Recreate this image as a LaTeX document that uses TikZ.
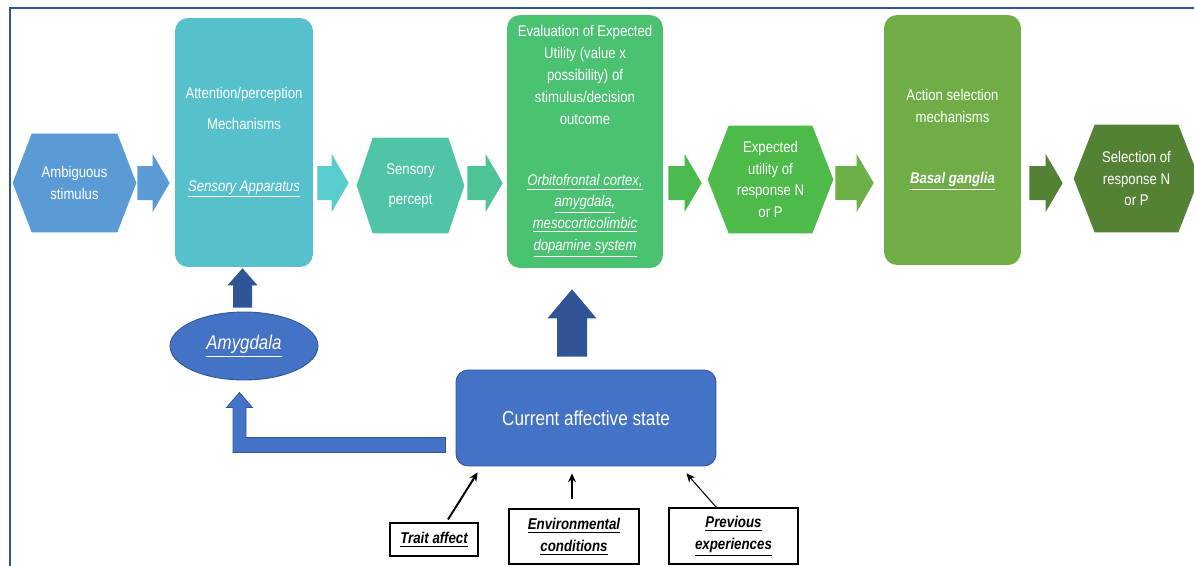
\documentclass[tikz,border=0pt]{standalone}
\usepackage{fontspec}
\setmainfont{Liberation Sans}[FakeStretch=0.85]
\usetikzlibrary{positioning,calc,shapes.geometric,arrows.meta}

\definecolor{stimblue}{RGB}{91,155,213}
\definecolor{attcyan}{RGB}{86,193,205}
\definecolor{arrcyan}{RGB}{88,204,206}
\definecolor{senseteal}{RGB}{80,196,166}
\definecolor{arrteal}{RGB}{77,196,150}
\definecolor{evalgreen}{RGB}{75,193,114}
\definecolor{arrgreen}{RGB}{74,186,78}
\definecolor{expgreen}{RGB}{76,187,74}
\definecolor{arrolive}{RGB}{110,176,72}
\definecolor{actgreen}{RGB}{112,173,71}
\definecolor{selgreen}{RGB}{84,130,53}
\definecolor{affblue}{RGB}{68,114,196}
\definecolor{darkblue}{RGB}{47,85,151}

\pgfdeclarelayer{background}
\pgfsetlayers{background,main}

% hexagon fill behind a named node: node, colour, chamfer
\newcommand{\hexfill}[3]{%
  \begin{pgfonlayer}{background}
    \fill[#2] (#1.west) -- ($(#1.north west)+(#3,0)$) -- ($(#1.north east)+(-#3,0)$)
      -- (#1.east) -- ($(#1.south east)+(-#3,0)$) -- ($(#1.south west)+(#3,0)$) -- cycle;
  \end{pgfonlayer}}

% block arrow pointing right: colour, tail, tip
\newcommand{\blockright}[3]{%
  \fill[#1] let \p1=(#2), \p2=(#3) in
    (\x1,\y1+0.34cm) -- (\x2-0.34cm,\y1+0.34cm) -- (\x2-0.34cm,\y1+0.58cm)
    -- (\x2,\y1) -- (\x2-0.34cm,\y1-0.58cm) -- (\x2-0.34cm,\y1-0.34cm)
    -- (\x1,\y1-0.34cm) -- cycle;}

% block arrow pointing up: colour, tail, tip, body half, head half, head length
\newcommand{\blockup}[6]{%
  \fill[#1] let \p1=(#2), \p2=(#3) in
    (\x1-#4,\y1) -- (\x1-#4,\y2-#6) -- (\x1-#5,\y2-#6) -- (\x2,\y2)
    -- (\x1+#5,\y2-#6) -- (\x1+#4,\y2-#6) -- (\x1+#4,\y1) -- cycle;}

\begin{document}
\begin{tikzpicture}[
    x=0.02cm, y=-0.02cm,
    flowbox/.style={rounded corners=0.26cm, inner sep=0pt, text=white, align=center,
      font=\fontsize{8.8}{12.4}\selectfont},
    hexbox/.style={rectangle, inner sep=0pt, text=white, align=center,
      font=\fontsize{8.8}{12.4}\selectfont},
    sourcebox/.style={draw=black, line width=0.6pt, inner sep=0pt, align=center,
      font=\fontsize{8.9}{12.5}\selectfont\bfseries\itshape},
    statebox/.style={fill=affblue, draw=darkblue, line width=0.5pt},
    thinarrow/.style={draw=black, -{Stealth[length=5pt,width=4.5pt]}}
]
\useasboundingbox (0,0) rectangle (1194,565);
\draw[darkblue, line width=1.1pt] (10,8) rectangle (1230,600);

% main row
\node[hexbox, minimum width=2.46cm, minimum height=1.96cm] (amb) at (74.5,183) {Ambiguous\\stimulus};
\node[flowbox, fill=attcyan, minimum width=2.76cm, minimum height=4.98cm,
  font=\fontsize{8.8}{17.6}\selectfont] (att) at (244,142.5)
  {Attention/perception\\Mechanisms\\[17.6pt]\underline{\itshape Sensory Apparatus}};
\node[hexbox, minimum width=2.14cm, minimum height=1.9cm,
  font=\fontsize{8.8}{17}\selectfont] (sens) at (410.5,185.5) {Sensory\\percept};
\node[flowbox, fill=evalgreen, minimum width=3.12cm, minimum height=5.06cm] (eval) at (585,141.5)
  {Evaluation of Expected\\Utility (value x\\possibility) of\\stimulus/decision\\outcome\\[22.4pt]
   \underline{\itshape Orbitofrontal cortex,}\\\underline{\itshape amygdala,}\\
   \underline{\itshape mesocorticolimbic}\\\underline{\itshape dopamine system}};
\node[hexbox, minimum width=2.5cm, minimum height=2.14cm] (exp) at (770.5,179.5)
  {Expected\\utility of\\response N\\or P};
\node[flowbox, fill=actgreen, minimum width=2.74cm, minimum height=5cm] (act) at (952.5,140)
  {Action selection\\mechanisms\\[22.7pt]\underline{\bfseries\itshape Basal ganglia}};
\node[hexbox, minimum width=2.5cm, minimum height=2.14cm] (sel) at (1136.5,178.5)
  {Selection of\\response N\\or P};

\hexfill{amb}{stimblue}{19}
\hexfill{sens}{senseteal}{16}
\hexfill{exp}{expgreen}{21}
\hexfill{sel}{selgreen}{21}

% affect part
\node[ellipse, statebox, minimum width=2.96cm, minimum height=1.36cm, inner sep=0pt,
  text=white, font=\fontsize{11.3}{13}\selectfont] (amy) at (244,346) {\underline{\itshape Amygdala}};
\node[statebox, rounded corners=0.24cm, minimum width=5.2cm, minimum height=1.92cm,
  text=white, font=\fontsize{11.5}{13}\selectfont] (cur) at (586,418) {Current affective state};

\node[sourcebox, minimum width=1.76cm, minimum height=0.66cm] (trait) at (434,539.5)
  {\underline{Trait affect}};
\node[sourcebox, minimum width=2.6cm, minimum height=1.1cm] (env) at (574,536.5)
  {\underline{Environmental}\\\underline{conditions}};
\node[sourcebox, minimum width=2.58cm, minimum height=1.12cm] (prev) at (733.5,536)
  {\underline{Previous}\\\underline{experiences}};

% flow arrows
\blockright{stimblue}{$(amb.east)+(1,0)$}{$(att.west)+(-5,0)$}
\blockright{arrcyan}{$(att.east |- amb.east)+(4,0)$}{$(sens.west)+(-8,0)$}
\blockright{arrteal}{$(sens.east |- amb.east)+(3,0)$}{$(eval.west)+(-4,0)$}
\blockright{arrgreen}{$(eval.east |- amb.east)+(5,0)$}{$(exp.west)+(-6,0)$}
\blockright{arrolive}{$(exp.east |- amb.east)+(2,0)$}{$(act.west)+(-10,0)$}
\blockright{selgreen}{$(act.east |- amb.east)+(8,0)$}{$(sel.west)+(-11,0)$}

\blockup{darkblue}{$(amy.north)+(-1.5,-4)$}{$(att.south)+(-1.5,1)$}{0.19cm}{0.3cm}{0.34cm}
\blockup{darkblue}{$(cur.north)+(-14,-13)$}{$(eval.south)+(-13,21)$}{0.3cm}{0.49cm}{0.58cm}

% state to amygdala
\filldraw[fill=affblue, draw=darkblue, line width=0.4pt]
  let \p1=($(cur.south west)+(-10,-21.5)$), \p2=($(amy.south)+(-4.5,12)$) in
  (\x1,\y1+0.15cm) -- (\x2+0.13cm,\y1+0.15cm) -- (\x2+0.13cm,\y2-0.3cm)
  -- (\x2+0.26cm,\y2-0.3cm) -- (\x2,\y2) -- (\x2-0.26cm,\y2-0.3cm)
  -- (\x2-0.13cm,\y2-0.3cm) -- (\x2-0.13cm,\y1-0.15cm) -- (\x1,\y1-0.15cm) -- cycle;

% influences on the affective state
\draw[thinarrow, line width=1.1pt] ($(trait.north)+(14,-3)$) -- ($(cur.south west)+(22,6)$);
\draw[thinarrow, line width=1.1pt] ($(env.north)+(-2,-9)$) -- ($(env.north |- cur.south)+(-2,7)$);
\draw[thinarrow, line width=0.6pt] ($(prev.north)+(-17,0)$) -- ($(cur.south east)+(-30,7)$);

\end{tikzpicture}
\end{document}
